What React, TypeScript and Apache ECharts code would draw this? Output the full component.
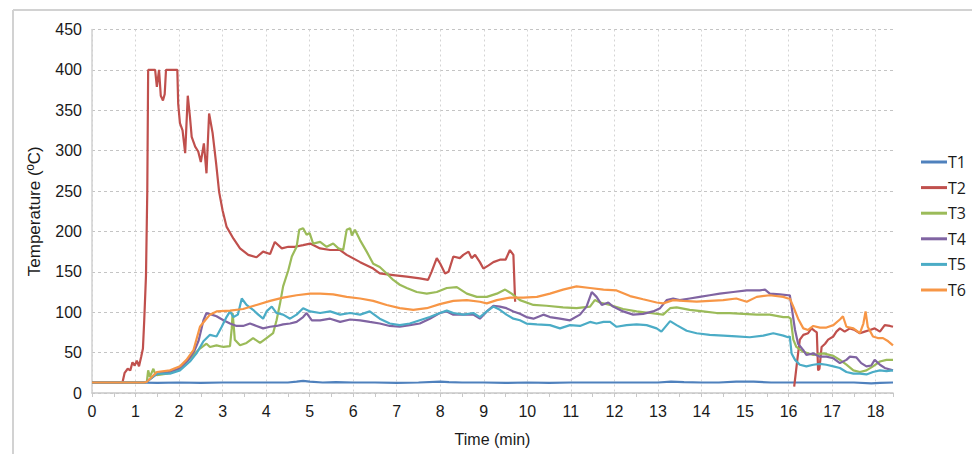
import React, { useEffect, useRef } from "react";
import * as echarts from "echarts";

const seriesNames = ["T1", "T2", "T3", "T4", "T5", "T6"];
const seriesColors = ["#4F81BD", "#C0504D", "#9BBB59", "#8064A2", "#4BACC6", "#F79646"];

const xTicks = [0, 18.4];
const yTicks = [0, 450, 50];

const T1: [number, number][] = [
  [0, 13], [0.5, 13], [1, 13], [1.5, 12.5], [2, 13], [2.5, 12.5], [3, 13], [3.5, 13], [4, 13], [4.5, 13],
  [4.7, 14], [4.85, 15], [5.0, 14], [5.3, 13], [5.6, 13.5], [6, 13], [6.5, 13], [7, 12.5], [7.5, 13],
  [8, 14], [8.2, 13.5], [8.5, 13], [9, 13], [9.5, 12.5], [10, 13], [10.5, 12.5], [11, 13], [11.5, 13],
  [12, 13], [12.5, 13], [13, 13], [13.3, 14], [13.6, 13.5], [14, 13], [14.4, 13], [14.8, 14], [15.2, 14],
  [15.6, 13], [16, 13], [16.5, 13], [17, 13], [17.5, 13], [17.9, 12], [18.1, 12.5], [18.4, 13],
];

const T2: ([number, number] | [number, null])[] = [
  [0, 13], [0.7, 13], [0.75, 25], [0.82, 30], [0.88, 28], [0.93, 38], [0.98, 34], [1.03, 40], [1.08, 33],
  [1.13, 45], [1.17, 55], [1.2, 90], [1.24, 145], [1.27, 250], [1.29, 400], [1.45, 400], [1.49, 379],
  [1.54, 400], [1.58, 368], [1.63, 362], [1.67, 370], [1.7, 400], [1.96, 400], [1.98, 358], [2.02, 334],
  [2.08, 325], [2.14, 297], [2.2, 368], [2.25, 342], [2.29, 317], [2.37, 305], [2.44, 299], [2.5, 286],
  [2.57, 309], [2.63, 272], [2.69, 346], [2.77, 322], [2.85, 285], [2.92, 249], [3.0, 226], [3.09, 206],
  [3.25, 191], [3.4, 179], [3.59, 171], [3.78, 168], [3.93, 175], [4.09, 172], [4.2, 187], [4.36, 179],
  [4.51, 181], [4.66, 181], [4.85, 183], [5.01, 185], [5.24, 179], [5.47, 177], [5.7, 177], [5.85, 171],
  [6.16, 162], [6.46, 154], [6.61, 148], [6.92, 146], [7.23, 144], [7.53, 142], [7.72, 140], [7.8, 150],
  [7.92, 167], [8.0, 160], [8.11, 148], [8.19, 150], [8.3, 169], [8.45, 167], [8.53, 171], [8.65, 175],
  [8.72, 167], [8.8, 171], [8.91, 162], [8.99, 154], [9.11, 158], [9.22, 162], [9.37, 165], [9.5, 165],
  [9.6, 177], [9.68, 171], [9.72, 113], [9.73, null],
  [16.13, 8], [16.2, 40], [16.26, 66], [16.34, 72], [16.45, 74], [16.53, 80], [16.6, 77], [16.65, 75],
  [16.68, 28], [16.71, 30], [16.76, 57], [16.84, 61], [16.91, 66], [17.03, 70], [17.1, 76], [17.18, 80],
  [17.29, 76], [17.41, 80], [17.52, 78], [17.64, 74], [17.75, 76], [17.87, 78], [17.98, 80], [18.1, 76],
  [18.21, 84], [18.33, 83], [18.4, 82],
];

const T3: [number, number][] = [
  [0, 13], [1.2, 13], [1.26, 14], [1.29, 28], [1.33, 20], [1.41, 30], [1.45, 24], [1.49, 22], [1.72, 24],
  [2.02, 30], [2.25, 43], [2.48, 55], [2.63, 61], [2.71, 57], [2.86, 59], [3.02, 57], [3.17, 58],
  [3.21, 80], [3.23, 99], [3.26, 80], [3.28, 66], [3.4, 59], [3.55, 62], [3.7, 68], [3.86, 62], [4.01, 68],
  [4.16, 74], [4.24, 90], [4.32, 111], [4.39, 132], [4.51, 152], [4.59, 169], [4.7, 181], [4.76, 202],
  [4.85, 204], [4.93, 196], [5.0, 198], [5.08, 185], [5.24, 187], [5.39, 181], [5.54, 185], [5.66, 179],
  [5.77, 177], [5.85, 202], [5.93, 204], [5.97, 195], [6.04, 202], [6.16, 189], [6.31, 175], [6.46, 160],
  [6.61, 156], [6.77, 148], [6.92, 140], [7.07, 134], [7.23, 130], [7.46, 125], [7.69, 123], [7.92, 125],
  [8.15, 130], [8.38, 131], [8.61, 123], [8.84, 119], [9.07, 119], [9.3, 123], [9.49, 128], [9.64, 123],
  [9.83, 115], [10.14, 109], [10.44, 108], [10.82, 106], [11.13, 105], [11.44, 107], [11.55, 115],
  [11.67, 112], [11.9, 109], [12.2, 104], [12.51, 101], [12.82, 99], [13.12, 97], [13.28, 105],
  [13.43, 106], [13.73, 103], [14.04, 101], [14.35, 99], [14.65, 99], [14.96, 98], [15.27, 97],
  [15.57, 97], [15.88, 94], [16.0, 94], [16.05, 92], [16.11, 66], [16.18, 57], [16.34, 51], [16.57, 47],
  [16.8, 49], [17.03, 46], [17.18, 41], [17.33, 35], [17.49, 28], [17.64, 26], [17.79, 28], [17.94, 33],
  [18.1, 39], [18.25, 41], [18.4, 41],
];

const T4: [number, number][] = [
  [0, 13], [1.2, 13], [1.26, 14], [1.5, 24], [1.75, 26], [2.0, 30], [2.2, 40], [2.35, 52], [2.45, 65],
  [2.56, 90], [2.63, 99], [2.75, 97], [2.86, 95], [3.02, 90], [3.17, 86], [3.32, 83], [3.47, 83],
  [3.63, 86], [3.78, 83], [3.93, 80], [4.09, 82], [4.24, 83], [4.39, 85], [4.55, 86], [4.7, 88],
  [4.85, 94], [4.93, 99], [5.05, 90], [5.24, 90], [5.47, 92], [5.7, 88], [5.93, 91], [6.16, 90],
  [6.38, 88], [6.61, 86], [6.84, 83], [7.07, 82], [7.3, 84], [7.53, 86], [7.76, 92], [7.99, 99],
  [8.15, 101], [8.3, 97], [8.53, 97], [8.76, 97], [8.91, 92], [9.07, 101], [9.22, 108], [9.37, 107],
  [9.52, 105], [9.68, 101], [9.83, 98], [9.98, 94], [10.14, 92], [10.37, 97], [10.52, 94], [10.75, 92],
  [10.98, 90], [11.21, 97], [11.36, 107], [11.48, 125], [11.59, 119], [11.71, 109], [11.86, 112],
  [11.97, 107], [12.2, 101], [12.43, 97], [12.66, 98], [12.89, 101], [13.05, 105], [13.2, 115],
  [13.35, 117], [13.5, 115], [13.73, 117], [13.96, 119], [14.19, 121], [14.42, 123], [14.73, 125],
  [15.04, 127], [15.34, 127], [15.46, 128], [15.57, 123], [15.8, 122], [16.0, 121], [16.03, 121],
  [16.07, 107], [16.15, 78], [16.22, 61], [16.34, 53], [16.41, 47], [16.57, 49], [16.72, 45], [16.87, 45],
  [17.03, 43], [17.18, 37], [17.33, 41], [17.41, 45], [17.56, 44], [17.67, 37], [17.79, 33], [17.9, 34],
  [17.98, 41], [18.1, 35], [18.21, 31], [18.4, 28],
];

const T5: [number, number][] = [
  [0, 13], [1.2, 13], [1.26, 14], [1.49, 24], [1.79, 24], [2.02, 28], [2.25, 39], [2.4, 49], [2.56, 64],
  [2.71, 72], [2.86, 70], [2.98, 82], [3.09, 94], [3.17, 101], [3.25, 94], [3.35, 97], [3.44, 117],
  [3.55, 109], [3.7, 103], [3.82, 97], [3.93, 92], [4.01, 101], [4.13, 107], [4.24, 99], [4.39, 97],
  [4.55, 92], [4.7, 97], [4.85, 105], [5.01, 101], [5.24, 99], [5.47, 101], [5.7, 97], [5.93, 99],
  [6.16, 97], [6.38, 101], [6.61, 92], [6.84, 86], [7.07, 84], [7.3, 86], [7.53, 90], [7.76, 94],
  [7.99, 99], [8.15, 102], [8.3, 99], [8.53, 97], [8.76, 99], [8.91, 94], [9.07, 101], [9.22, 107],
  [9.37, 103], [9.52, 97], [9.68, 92], [9.83, 90], [9.98, 86], [10.22, 85], [10.52, 84], [10.75, 80],
  [10.98, 84], [11.21, 83], [11.44, 88], [11.59, 86], [11.75, 88], [11.9, 88], [12.05, 82], [12.28, 84],
  [12.51, 85], [12.74, 84], [12.97, 80], [13.08, 76], [13.28, 89], [13.43, 84], [13.66, 77], [13.89, 74],
  [14.19, 72], [14.5, 71], [14.8, 70], [15.11, 69], [15.42, 71], [15.65, 74], [15.88, 71], [15.99, 69],
  [16.03, 70], [16.07, 49], [16.15, 41], [16.26, 35], [16.41, 33], [16.57, 35], [16.72, 36], [16.87, 35],
  [17.03, 33], [17.18, 31], [17.33, 26], [17.49, 24], [17.64, 24], [17.79, 23], [17.94, 26], [18.1, 28],
  [18.25, 27], [18.4, 28],
];

const T6: [number, number][] = [
  [0, 13], [1.2, 13], [1.26, 14], [1.49, 26], [1.79, 28], [2.02, 33], [2.17, 41], [2.33, 53], [2.48, 82],
  [2.6, 90], [2.71, 97], [2.86, 101], [3.17, 102], [3.47, 104], [3.78, 109], [4.09, 114], [4.39, 118],
  [4.7, 121], [5.01, 123], [5.24, 123], [5.54, 122], [5.85, 119], [6.16, 117], [6.46, 114], [6.77, 109],
  [7.07, 105], [7.38, 103], [7.69, 105], [7.99, 110], [8.3, 114], [8.61, 115], [8.91, 113], [9.07, 111],
  [9.3, 115], [9.6, 118], [9.91, 118], [10.22, 119], [10.52, 123], [10.82, 128], [11.13, 132],
  [11.44, 130], [11.75, 128], [12.05, 127], [12.36, 120], [12.66, 116], [12.97, 112], [13.12, 111],
  [13.35, 115], [13.58, 114], [13.89, 113], [14.19, 114], [14.5, 115], [14.8, 117], [15.04, 113],
  [15.27, 119], [15.57, 121], [15.88, 119], [15.99, 117], [16.03, 117], [16.11, 107], [16.22, 92],
  [16.34, 80], [16.45, 78], [16.57, 83], [16.72, 81], [16.87, 81], [17.03, 84], [17.18, 91], [17.25, 95],
  [17.33, 82], [17.49, 80], [17.64, 74], [17.72, 86], [17.77, 101], [17.82, 82], [17.94, 70], [18.05, 68],
  [18.17, 68], [18.29, 64], [18.4, 59],
];

const seriesData = [T1, T2, T3, T4, T5, T6];

export default function App() {
  const ref = useRef<HTMLDivElement>(null);
  useEffect(() => {
    if (!ref.current) return;
    const chart = echarts.init(ref.current, null, { renderer: "svg" });
    const font = "'Liberation Sans', Arial, sans-serif";
    chart.setOption({
      animation: false,
      backgroundColor: "#ffffff",
      grid: { left: 92, top: 29.5, right: 79, bottom: 61, containLabel: false },
      legend: {
        orient: "vertical",
        left: 916,
        top: 149,
        icon: "rect",
        itemWidth: 26,
        itemHeight: 3,
        itemGap: 9.6,
        data: seriesNames,
        textStyle: { fontFamily: "'Open Sans', sans-serif", fontSize: 16, color: "#1a1a1a", padding: [0, 0, 0, -4], lineHeight: 16 },
      },
      xAxis: {
        type: "value",
        min: xTicks[0],
        max: xTicks[1],
        interval: 1,
        name: "Time (min)",
        nameLocation: "middle",
        nameGap: 38,
        nameTextStyle: { fontFamily: font, fontSize: 16, color: "#1a1a1a", verticalAlign: "top" },
        axisLine: { show: true, lineStyle: { color: "#c8c8c8", width: 1.5 } },
        axisTick: { show: true, length: 4, lineStyle: { color: "#c8c8c8" } },
        minorTick: { show: true, splitNumber: 2, length: 4, lineStyle: { color: "#c8c8c8" } },
        axisLabel: {
          fontFamily: font,
          fontSize: 16,
          color: "#1a1a1a",
          margin: 10,
          showMaxLabel: false,
          formatter: (v: number) => (Number.isInteger(v) ? String(v) : ""),
        },
        splitLine: { show: true, showMaxLine: false, lineStyle: { color: "#d4d4d4", type: [2, 3], width: 1 } },
      },
      yAxis: {
        type: "value",
        min: yTicks[0],
        max: yTicks[1],
        interval: yTicks[2],
        name: "Temperature (ºC)",
        nameLocation: "middle",
        nameGap: 49,
        nameRotate: 90,
        nameTextStyle: { fontFamily: font, fontSize: 17, color: "#1a1a1a" },
        axisLine: { show: true, lineStyle: { color: "#d0d0d0", width: 1.5 } },
        axisTick: { show: false },
        axisLabel: { fontFamily: font, fontSize: 16, color: "#1a1a1a", margin: 10 },
        splitLine: { show: true, lineStyle: { color: "#c4c4c4", type: [3, 3], width: 1 } },
      },
      graphic: [
        { type: "line", shape: { x1: 13, y1: 10, x2: 972, y2: 10 }, style: { stroke: "#d2d2d2", lineWidth: 2 } },
        { type: "line", shape: { x1: 13, y1: 10, x2: 13, y2: 454 }, style: { stroke: "#d2d2d2", lineWidth: 2 } },
      ],
      series: seriesNames.map((name, i) => ({
        name,
        type: "line",
        data: seriesData[i],
        showSymbol: false,
        symbol: "none",
        connectNulls: false,
        color: seriesColors[i],
        lineStyle: { width: 2.2, color: seriesColors[i] },
      })),
    });
    return () => chart.dispose();
  }, []);
  return <div ref={ref} style={{ position: "absolute", left: 0, top: 0, width: 972, height: 454 }} />;
}
